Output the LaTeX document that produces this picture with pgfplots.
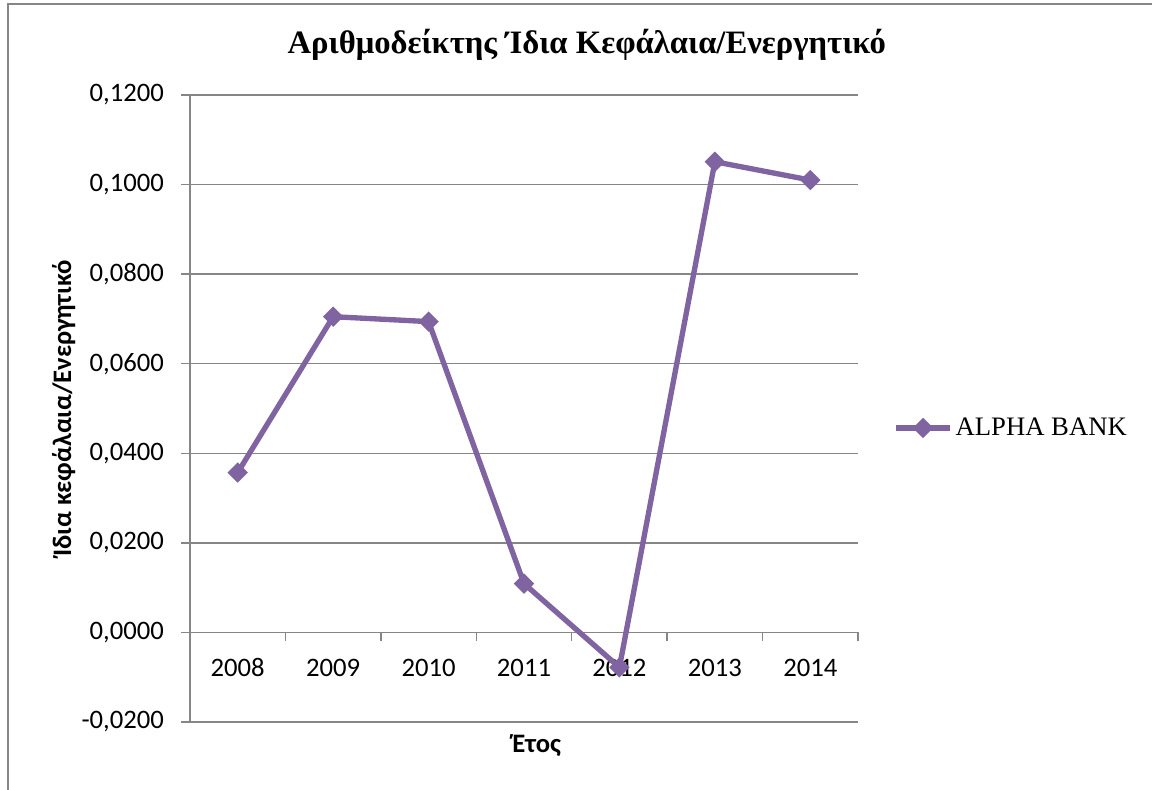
\documentclass[border=0pt]{standalone}
\usepackage{fontspec}
\setmainfont{Liberation Serif}
\setsansfont{Carlito}
\usepackage{pgfplots}
\pgfplotsset{compat=1.18}
\definecolor{lineP}{HTML}{8064A2}
\definecolor{gridG}{HTML}{868686}
\begin{document}
\begin{tikzpicture}
\useasboundingbox (0,0) rectangle (864pt,591.75pt);
\draw[gridG, line width=1.1pt] (6pt,-2pt) -- (6pt,588.75pt) -- (866pt,588.75pt);
\begin{axis}[
  at={(142.5pt,50.25pt)}, anchor=south west,
  scale only axis, width=501pt, height=470.25pt,
  xmin=-0.5, xmax=6.5, ymin=-0.02, ymax=0.12,
  axis x line=middle, axis y line=left,
  hide obscured x ticks=false, hide obscured y ticks=false,
  axis line style={-, gridG, line width=1.1pt},
  xtick={-0.5,0.5,...,6.5},
  x tick label as interval,
  xticklabels={2008,2009,2010,2011,2012,2013,2014},
  ytick={-0.02,0,0.02,0.04,0.06,0.08,0.1,0.12},
  yticklabels={{-0,0200},{0,0000},{0,0200},{0,0400},{0,0600},{0,0800},{0,1000},{0,1200}},
  tick align=outside,
  major tick length=6.5pt,
  tick style={gridG, line width=1.1pt},
  ymajorgrids, major grid style={gridG, line width=1.1pt},
  ticklabel style={font=\fontsize{20}{24}\selectfont\sffamily},
  xticklabel style={anchor=center, yshift=-20pt},
  yticklabel style={anchor=east, xshift=-9.5pt},
  title={Αριθμοδείκτης Ίδια Κεφάλαια/Ενεργητικό},
  title style={at={(0.594,1.067)}, anchor=center, font=\fontsize{24.5}{28}\selectfont\bfseries},
  xlabel={Έτος},
  xlabel style={at={(axis description cs:0.519,-0.037)}, anchor=center, font=\fontsize{20}{24}\selectfont\sffamily\bfseries},
  ylabel={Ίδια κεφάλαια/Ενεργητικό},
  ylabel style={at={(axis description cs:-0.189,0.5)}, anchor=center, font=\fontsize{20}{24}\selectfont\sffamily\bfseries},
  legend style={at={(1.052,0.469)}, anchor=west, draw=none, fill=none, font=\fontsize{20}{24}\selectfont, inner sep=0pt},
  legend cell align=left,
  legend image code/.code={\draw[mark repeat=2,mark phase=2,#1] plot coordinates {(0pt,0pt) (20.5pt,0pt) (41pt,0pt)};},
  clip=false,
]
\addplot[lineP, line width=4pt, mark=square*, mark size=4.9pt, mark options={solid, rotate=45, line width=1pt, fill=lineP}]
  coordinates {(0,0.0357) (1,0.0705) (2,0.0694) (3,0.0109) (4,-0.0078) (5,0.1051) (6,0.1010)};
\addlegendentry{ALPHA BANK}
\end{axis}
\end{tikzpicture}
\end{document}
